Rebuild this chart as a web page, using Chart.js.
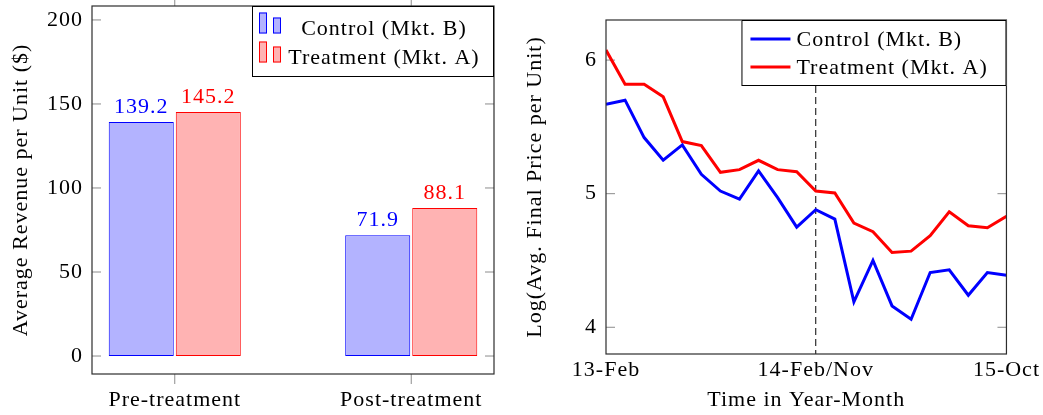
<!DOCTYPE html>
<html>
<head>
<meta charset="utf-8">
<title>Revenue and price by market</title>
<script src="https://cdn.jsdelivr.net/npm/chart.js@4.4.1/dist/chart.umd.min.js"></script>
<style>
  html, body { margin: 0; padding: 0; background: #fff; }
  #wrap { position: relative; width: 1043px; height: 415px; overflow: hidden; }
  canvas { position: absolute; top: 0; }
  #revenue { left: 0; }
  #price { left: 520px; }
</style>
</head>
<body>
<div id="wrap">
  <canvas id="revenue" width="520" height="415"></canvas>
  <canvas id="price" width="523" height="415"></canvas>
</div>
<script>
// ---- Average revenue per unit, before and after treatment ----
const periods = ['Pre-treatment', 'Post-treatment'];
const controlRevenue = [139.2, 71.9];
const treatmentRevenue = [145.2, 88.1];
const revenueTicks = [0, 50, 100, 150, 200];

// ---- Log of average final price per unit, monthly ----
const controlLogPrice = [5.67, 5.70, 5.42, 5.25, 5.365, 5.145, 5.02, 4.96, 5.17, 4.97, 4.75,
                         4.88, 4.81, 4.19, 4.50, 4.16, 4.06, 4.41, 4.43, 4.24, 4.41, 4.39];
const treatmentLogPrice = [6.075, 5.82, 5.82, 5.725, 5.39, 5.36, 5.16, 5.18, 5.25, 5.18, 5.165,
                           5.02, 5.005, 4.78, 4.715, 4.56, 4.57, 4.685, 4.865, 4.76, 4.745, 4.83];
const monthTickIndex = [0, 11, 21];
const monthTickLabels = ['13-Feb', '14-Feb/Nov', '15-Oct'];
const logPriceTicks = [4, 5, 6];
const treatmentStartIndex = 11;

const CONTROL_LABEL = 'Control (Mkt. B)';
const TREATMENT_LABEL = 'Treatment (Mkt. A)';
const FONT_FAMILY = "'Liberation Serif', 'Times New Roman', serif";
const FONT_SIZE = 22;

Chart.defaults.font.family = FONT_FAMILY;
Chart.defaults.font.size = FONT_SIZE;
Chart.defaults.color = '#000';

// Slightly looser glyph spacing for the serif text.
const textSpacing = {
  id: 'textSpacing',
  beforeUpdate(chart) { chart.ctx.letterSpacing = '1px'; },
  beforeDraw(chart) { chart.ctx.letterSpacing = '1px'; }
};

// Axis box, inward y ticks, optional outward x ticks and a dashed marker line.
const frame = {
  id: 'frame',
  beforeDatasetsDraw(chart, args, o) {
    const { ctx, chartArea: a, scales } = chart;
    ctx.save();
    ctx.strokeStyle = 'rgb(140,140,140)';
    ctx.lineWidth = 1;
    ctx.beginPath();
    (o.yTicks || []).forEach(v => {
      const y = scales.y.getPixelForValue(v);
      ctx.moveTo(a.left, y); ctx.lineTo(a.left + 9, y);
      ctx.moveTo(a.right, y); ctx.lineTo(a.right - 9, y);
    });
    (o.xTicks || []).forEach(v => {
      const x = scales.x.getPixelForValue(v);
      ctx.moveTo(x, a.bottom); ctx.lineTo(x, a.bottom + 10);
      ctx.moveTo(x, a.top); ctx.lineTo(x, a.top - 10);
    });
    ctx.stroke();
    if (o.marker !== undefined) {
      const x = scales.x.getPixelForValue(o.marker);
      ctx.strokeStyle = '#000';
      ctx.setLineDash([7, 4]);
      ctx.beginPath();
      ctx.moveTo(x, a.top);
      ctx.lineTo(x, a.bottom);
      ctx.stroke();
    }
    ctx.restore();
  },
  afterDatasetsDraw(chart) {
    const { ctx, chartArea: a } = chart;
    ctx.save();
    ctx.strokeStyle = 'rgb(45,45,45)';
    ctx.lineWidth = 1.2;
    ctx.strokeRect(a.left, a.top, a.right - a.left, a.bottom - a.top);
    ctx.restore();
  }
};

// Value printed above each bar, in the colour of its series.
const barValues = {
  id: 'barValues',
  afterDatasetsDraw(chart) {
    const { ctx } = chart;
    ctx.save();
    ctx.font = FONT_SIZE + 'px ' + FONT_FAMILY;
    ctx.textAlign = 'center';
    ctx.textBaseline = 'alphabetic';
    chart.data.datasets.forEach((ds, di) => {
      chart.getDatasetMeta(di).data.forEach((bar, i) => {
        ctx.fillStyle = ds.borderColor;
        ctx.fillText(ds.data[i].y.toFixed(1), bar.x, bar.y - 9);
      });
    });
    ctx.restore();
  }
};

// Framed legend in the upper right corner of the plot.
const boxLegend = {
  id: 'boxLegend',
  afterDraw(chart, args, o) {
    const { ctx, chartArea: a } = chart;
    const left = a.right - o.width, top = a.top;
    ctx.save();
    ctx.fillStyle = '#fff';
    ctx.fillRect(left, top, o.width, o.height);
    ctx.strokeStyle = '#000';
    ctx.lineWidth = 1;
    ctx.strokeRect(left + 0.5, top + 0.5, o.width - 1, o.height - 1);
    ctx.font = FONT_SIZE + 'px ' + FONT_FAMILY;
    ctx.textBaseline = 'alphabetic';
    chart.data.datasets.forEach((ds, i) => {
      const base = top + o.rows[i];
      if (o.style === 'bars') {
        ctx.fillStyle = ds.backgroundColor;
        ctx.strokeStyle = ds.borderColor;
        ctx.lineWidth = 1;
        [[7, 21], [21, 16]].forEach(([dx, h]) => {
          const y0 = base - 1.5 - h;
          ctx.fillRect(left + dx, y0, 8, h);
          ctx.strokeRect(left + dx + 0.5, y0 + 0.5, 7, h - 1);
        });
        ctx.fillStyle = '#000';
        ctx.textAlign = 'center';
        ctx.fillText(ds.label, left + o.textX, base);
      } else {
        ctx.strokeStyle = ds.borderColor;
        ctx.lineWidth = ds.borderWidth;
        ctx.beginPath();
        ctx.moveTo(left + 9, base - 7);
        ctx.lineTo(left + 49, base - 7);
        ctx.stroke();
        ctx.fillStyle = '#000';
        ctx.textAlign = 'left';
        ctx.fillText(ds.label, left + o.textX, base);
      }
    });
    ctx.restore();
  }
};

const toPoints = values => values.map((v, i) => ({ x: i, y: v }));

// Fixed axis widths, with no extra room reserved for the end tick labels.
const fixWidth = w => s => { s.width = w; s.paddingTop = 0; s.paddingBottom = 0; };

// ---- Left: grouped bars ----
new Chart(document.getElementById('revenue'), {
  type: 'bar',
  data: {
    datasets: [
      {
        label: CONTROL_LABEL,
        data: toPoints(controlRevenue),
        backgroundColor: 'rgb(179,179,255)',
        borderColor: 'rgb(0,0,255)',
        borderWidth: 1,
        borderSkipped: false,
        categoryPercentage: 0.567,
        barPercentage: 0.97
      },
      {
        label: TREATMENT_LABEL,
        data: toPoints(treatmentRevenue),
        backgroundColor: 'rgb(255,179,179)',
        borderColor: 'rgb(255,0,0)',
        borderWidth: 1,
        borderSkipped: false,
        categoryPercentage: 0.567,
        barPercentage: 0.97
      }
    ]
  },
  options: {
    responsive: false,
    animation: false,
    devicePixelRatio: 1,
    layout: { padding: { left: 0, right: 26, top: 6, bottom: 0 } },
    scales: {
      x: {
        type: 'linear',
        offset: false,
        min: -0.35,
        max: 1.35,
        grid: { display: false, drawTicks: false },
        border: { display: false },
        afterBuildTicks: s => { s.ticks = periods.map((_, i) => ({ value: i })); },
        ticks: { padding: 13, maxRotation: 0, autoSkip: false, callback: v => periods[v] },
        afterFit: s => { s.height = 41; }
      },
      y: {
        min: -10.7,
        max: 208.3,
        grid: { display: false, drawTicks: false },
        border: { display: false },
        afterBuildTicks: s => { s.ticks = revenueTicks.map(v => ({ value: v })); },
        ticks: { padding: 9 },
        title: { display: true, text: 'Average Revenue per Unit ($)', padding: { top: 8, bottom: 0 } },
        afterFit: fixWidth(92)
      }
    },
    plugins: {
      legend: { display: false },
      tooltip: { enabled: false },
      frame: { yTicks: revenueTicks, xTicks: periods.map((_, i) => i) },
      boxLegend: { style: 'bars', width: 242, height: 71, rows: [29, 58], textX: 132 }
    }
  },
  plugins: [textSpacing, frame, barValues, boxLegend]
});

// ---- Right: monthly log price lines ----
new Chart(document.getElementById('price'), {
  type: 'line',
  data: {
    datasets: [
      {
        label: CONTROL_LABEL,
        data: toPoints(controlLogPrice),
        borderColor: 'rgb(0,0,255)',
        borderWidth: 3,
        pointRadius: 0,
        tension: 0,
        fill: false,
        borderJoinStyle: 'miter'
      },
      {
        label: TREATMENT_LABEL,
        data: toPoints(treatmentLogPrice),
        borderColor: 'rgb(255,0,0)',
        borderWidth: 3,
        pointRadius: 0,
        tension: 0,
        fill: false,
        borderJoinStyle: 'miter'
      }
    ]
  },
  options: {
    responsive: false,
    animation: false,
    devicePixelRatio: 1,
    layout: { padding: { left: 0, right: 34, top: 20, bottom: 0 } },
    scales: {
      x: {
        type: 'linear',
        min: monthTickIndex[0],
        max: monthTickIndex[monthTickIndex.length - 1],
        grid: { display: false, drawTicks: false },
        border: { display: false },
        afterBuildTicks: s => { s.ticks = monthTickIndex.map(v => ({ value: v })); },
        ticks: { padding: 3, maxRotation: 0, autoSkip: false, callback: (v, i) => monthTickLabels[i] },
        title: { display: true, text: 'Time in Year-Month', padding: { top: 0, bottom: 2 } },
        afterFit: s => { s.height = 61; }
      },
      y: {
        min: 3.8,
        max: 6.3,
        grid: { display: false, drawTicks: false },
        border: { display: false },
        afterBuildTicks: s => { s.ticks = logPriceTicks.map(v => ({ value: v })); },
        ticks: { padding: 9 },
        title: { display: true, text: 'Log(Avg. Final Price per Unit)', padding: { top: 2, bottom: 0 } },
        afterFit: fixWidth(86)
      }
    },
    plugins: {
      legend: { display: false },
      tooltip: { enabled: false },
      frame: { yTicks: logPriceTicks, marker: treatmentStartIndex },
      boxLegend: { style: 'lines', width: 265, height: 66, rows: [26, 54], textX: 55 }
    }
  },
  plugins: [textSpacing, frame, boxLegend]
});
</script>
</body>
</html>
